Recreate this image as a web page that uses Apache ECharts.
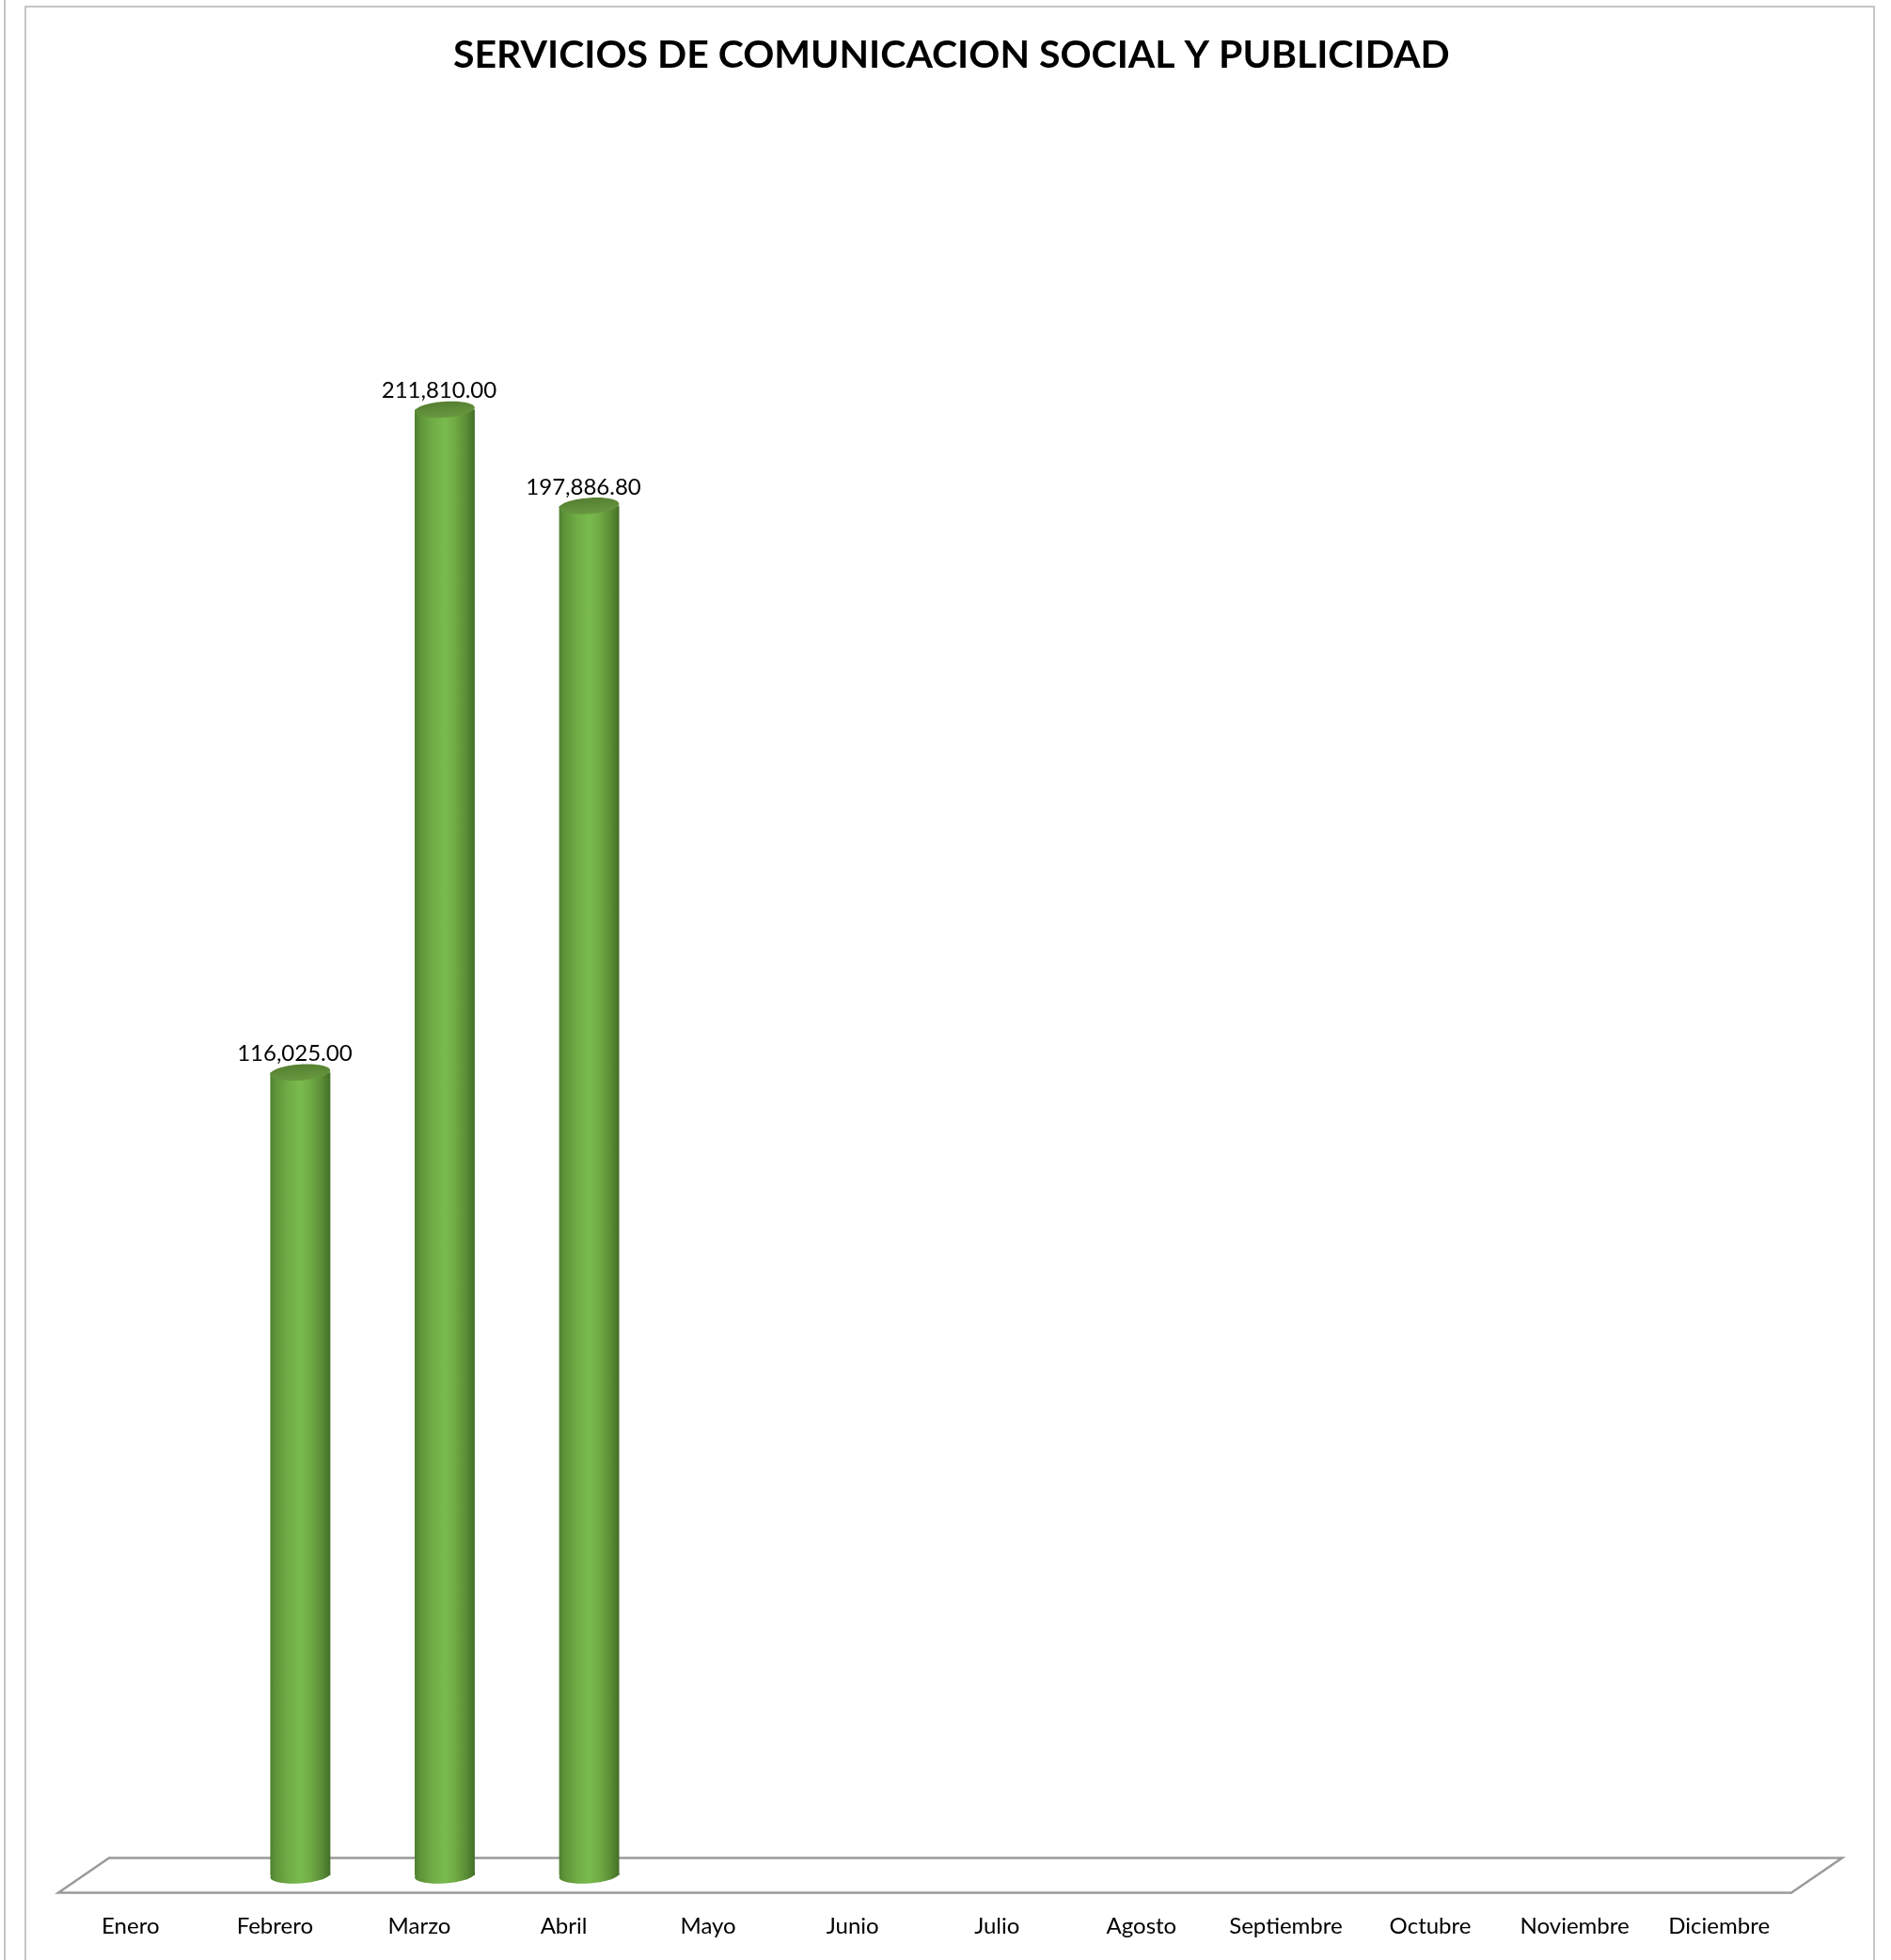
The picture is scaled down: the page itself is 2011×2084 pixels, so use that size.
<!DOCTYPE html>
<html>
<head>
<meta charset="utf-8">
<style>
html,body{margin:0;padding:0;background:#fff;}
#chart{width:2011px;height:2084px;}
</style>
<script src="https://cdn.jsdelivr.net/npm/echarts@6/dist/echarts.min.js"></script>
</head>
<body>
<div id="chart"></div>
<script>
const titleText = 'SERVICIOS DE COMUNICACION SOCIAL Y PUBLICIDAD';
const months = ['Enero','Febrero','Marzo','Abril','Mayo','Junio','Julio','Agosto','Septiembre','Octubre','Noviembre','Diciembre'];
const amounts = [null, 116025.00, 211810.00, 197886.80, null, null, null, null, null, null, null, null];

const DEPTH_X = 54, DEPTH_Y = 37;
const fmt = v => v.toLocaleString('en-US', {minimumFractionDigits: 2, maximumFractionDigits: 2});

const bodyGrad = {
  type: 'linear', x: 0, y: 0, x2: 1, y2: 0,
  colorStops: [
    {offset: 0, color: '#4e7f2f'},
    {offset: 0.08, color: '#5d9337'},
    {offset: 0.3, color: '#70ad46'},
    {offset: 0.5, color: '#79ba4d'},
    {offset: 0.66, color: '#71ad46'},
    {offset: 0.86, color: '#5a8c35'},
    {offset: 1, color: '#436f28'}
  ]
};
const topGrad = {
  type: 'linear', x: 0, y: 0, x2: 0, y2: 1,
  colorStops: [
    {offset: 0, color: '#557f31'},
    {offset: 1, color: '#67993f'}
  ]
};

const chart = echarts.init(document.getElementById('chart'), null, {renderer: 'canvas'});
chart.setOption({
  backgroundColor: '#ffffff',
  animation: false,
  title: {
    text: titleText,
    left: 477,
    top: 33,
    padding: 5,
    textStyle: {fontFamily: 'Lato', fontWeight: 'bold', fontSize: 41, color: '#000'}
  },
  graphic: [
    {type: 'rect', shape: {x: 27, y: 7, width: 1966, height: 2200}, style: {fill: 'none', stroke: '#b3b3b3', lineWidth: 1.5}, z: -10},
    {type: 'line', shape: {x1: 5, y1: 0, x2: 5, y2: 2084}, style: {stroke: '#b3b3b3', lineWidth: 1.5}, z: -10}
  ],
  grid: {left: 62, right: 106, top: 228, bottom: 90, containLabel: false},
  xAxis: {
    type: 'category',
    data: months,
    axisLine: {show: false},
    axisTick: {show: false},
    splitLine: {show: false},
    axisLabel: {fontFamily: 'Lato', fontSize: 24, color: '#000', margin: 42, interval: 0}
  },
  yAxis: {type: 'value', min: 0, max: 240000, show: false, splitLine: {show: false}},
  series: [
    {
      type: 'custom',
      name: 'floor',
      z: 1,
      silent: true,
      data: [[0, 0]],
      renderItem: function (params, api) {
        const cs = params.coordSys;
        const y0 = api.coord([0, 0])[1];
        const fy = y0 + DEPTH_Y / 2, by = y0 - DEPTH_Y / 2;
        const fl = cs.x, fr = cs.x + cs.width;
        return {
          type: 'polygon',
          shape: {points: [[fl, fy], [fl + DEPTH_X, by], [fr + DEPTH_X, by], [fr, fy]]},
          style: {fill: '#ffffff', stroke: '#9a9a9a', lineWidth: 2.5}
        };
      }
    },
    {
      type: 'custom',
      name: 'Importe',
      z: 2,
      data: amounts.map((v, i) => [i, v]),
      renderItem: function (params, api) {
        const v = api.value(1);
        if (v == null || isNaN(v)) return null;
        const i = api.value(0);
        const top = api.coord([i, v]);
        const base = api.coord([i, 0]);
        const cx = top[0] + DEPTH_X / 2;
        const rx = api.size([1, 0])[0] * 0.208;
        const ry = 8.5;
        const rot = 0.07;
        return {
          type: 'group',
          children: [
            {type: 'ellipse', shape: {cx: cx, cy: base[1], rx: rx, ry: ry}, rotation: rot, originX: cx, originY: base[1], style: {fill: bodyGrad}},
            {type: 'rect', shape: {x: cx - rx, y: top[1], width: rx * 2, height: base[1] - top[1]}, style: {fill: bodyGrad}},
            {type: 'ellipse', shape: {cx: cx, cy: top[1], rx: rx, ry: ry}, rotation: rot, originX: cx, originY: top[1], style: {fill: topGrad}},
            {type: 'text', x: cx - 6, y: top[1] - 20, style: {text: fmt(v), fontFamily: 'Lato', fontSize: 24, fill: '#000', align: 'center', verticalAlign: 'middle'}}
          ]
        };
      }
    }
  ]
});
</script>
</body>
</html>
